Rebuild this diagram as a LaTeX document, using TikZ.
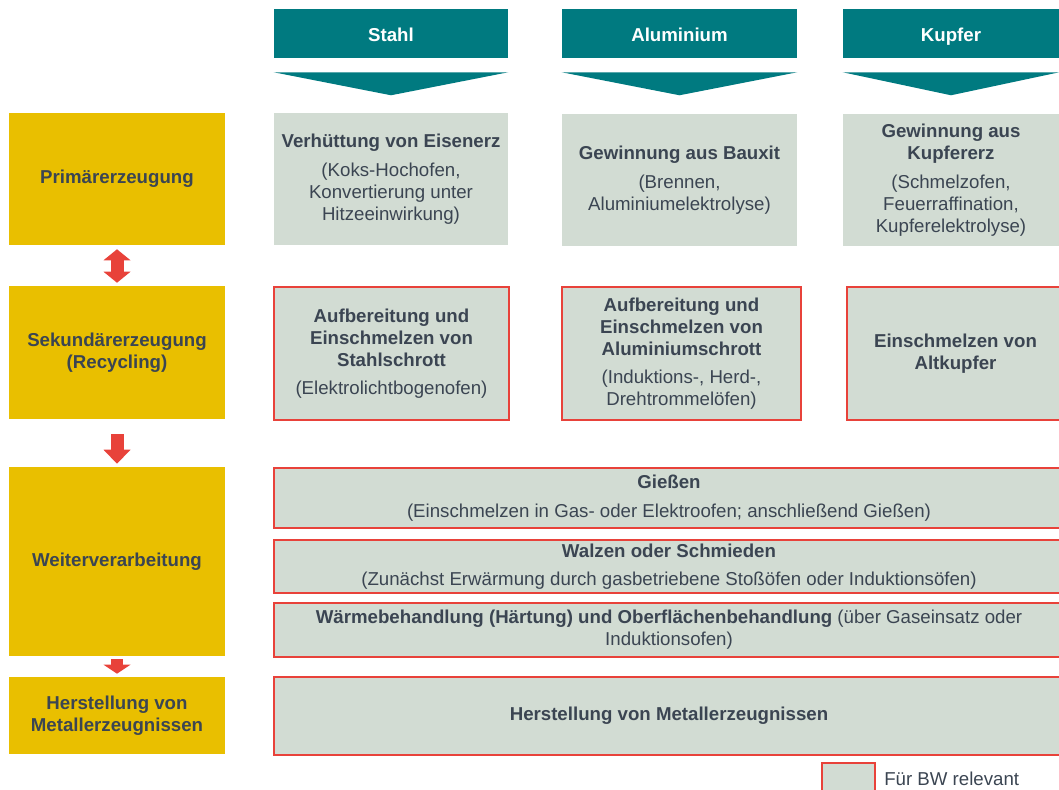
\documentclass[tikz,border=0pt]{standalone}
\usepackage{fontspec}
\setmainfont{Liberation Sans}
\usetikzlibrary{positioning,arrows.meta}
\definecolor{petrol}{HTML}{007A80}
\definecolor{gelb}{HTML}{E9BF00}
\definecolor{grau}{HTML}{D2DCD3}
\definecolor{rot}{HTML}{E8423A}
\definecolor{schrift}{HTML}{3B4552}

\begin{document}
\begin{tikzpicture}[x=0.75pt, y=-0.75pt, every node/.style={font=\fontsize{14}{16.5}\selectfont, text=schrift, align=center, inner sep=0pt}]
    \tikzstyle{kopf}=[fill=petrol, text=white, font=\fontsize{14}{16.5}\selectfont\bfseries, minimum height=36.75pt, text height=15pt, text depth=3pt]
    \tikzstyle{stufe}=[fill=gelb, font=\fontsize{14}{16.5}\selectfont\bfseries, minimum width=162pt]
    \tikzstyle{prozess}=[fill=grau, minimum height=99pt]
    \tikzstyle{relevant}=[fill=grau, draw=rot, line width=1.5pt]
    \tikzstyle{marr}=[rot, line width=9.75pt]

    \useasboundingbox (0,0) rectangle (1059,789);

    % Metalle oben
    \foreach \n/\x/\w/\t in {stahl/391/175.5pt/Stahl, alu/679.5/176.25pt/Aluminium, kupfer/951/162pt/Kupfer} {
        \node[kopf, minimum width=\w] (\n) at (\x, 33.5) {\t};
        \fill[petrol] ([yshift=-10.5pt]\n.south west) -- ([yshift=-10.5pt]\n.south east) -- ([yshift=-27.75pt]\n.south) -- cycle;
    }

    % Stufen links
    \node[stufe, minimum height=99pt] (prim) at (117, 179) {Primärerzeugung};
    \node[stufe, minimum height=99.75pt] (sek) at (117, 352.5) {Sekundärerzeugung\\(Recycling)};
    \node[stufe, minimum height=141.75pt] (weiter) at (117, 561.5) {Weiterverarbeitung};
    \node[stufe, minimum height=57.75pt] (herst) at (117, 715.5) {Herstellung von\\Metallerzeugnissen};

    \draw[marr, {Triangle[width=20.25pt, length=8.25pt, line width=0pt]}-{Triangle[width=20.25pt, length=8.25pt, line width=0pt]}, shorten <=3pt, shorten >=2.25pt] (prim) -- (sek);
    \draw[marr, -{Triangle[width=20.25pt, length=10.5pt, line width=0pt]}, shorten <=11.25pt, shorten >=2.25pt] (sek) -- (weiter);
    \draw[marr, line width=9pt, -{Triangle[width=20.25pt, length=6.75pt, line width=0pt]}, shorten <=2.25pt, shorten >=2.25pt] (weiter) -- (herst);

    % Primaererzeugung
    \node[prozess, minimum width=175.5pt] (stahlprim) at (391, 179) {\textbf{Verhüttung von Eisenerz}\\[5pt](Koks-Hochofen,\\Konvertierung unter\\Hitzeeinwirkung)};
    \node[prozess, minimum width=176.25pt] (aluprim) at (679.5, 180) {\textbf{Gewinnung aus Bauxit}\\[5pt](Brennen,\\Aluminiumelektrolyse)};
    \node[prozess, minimum width=162pt] (kupferprim) at (951, 180) {\textbf{Gewinnung aus}\\\textbf{Kupfererz}\\[5pt](Schmelzofen,\\Feuerraffination,\\Kupferelektrolyse)};

    % Sekundaererzeugung
    \node[relevant, minimum width=176.25pt, minimum height=99.75pt] (stahlsek) at (391.5, 353.5) {\textbf{Aufbereitung und}\\\textbf{Einschmelzen von}\\\textbf{Stahlschrott}\\[5pt](Elektrolichtbogenofen)};
    \node[relevant, minimum width=179.25pt, minimum height=99.75pt] (alusek) at (681.5, 353.5) {\textbf{Aufbereitung und}\\\textbf{Einschmelzen von}\\\textbf{Aluminiumschrott}\\[5pt](Induktions-, Herd-,\\Drehtrommelöfen)};
    \node[relevant, minimum width=162.75pt, minimum height=99.75pt] (kupfersek) at (955.5, 353.5) {\textbf{Einschmelzen von}\\\textbf{Altkupfer}};

    % Weiterverarbeitung
    \node[relevant, minimum width=592.5pt, minimum height=45pt] (giessen) at (669, 498) {\textbf{Gießen}\\[5pt](Einschmelzen in Gas- oder Elektroofen; anschließend Gießen)};
    \node[relevant, minimum width=592.5pt, minimum height=39.75pt] (walzen) at (669, 566.5) {\textbf{Walzen oder Schmieden}\\[5pt](Zunächst Erwärmung durch gasbetriebene Stoßöfen oder Induktionsöfen)};
    \node[relevant, minimum width=592.5pt, minimum height=40.5pt] (waerme) at (669, 630) {\textbf{Wärmebehandlung (Härtung) und Oberflächenbehandlung} (über Gaseinsatz oder\\Induktionsofen)};
    \node[relevant, minimum width=592.5pt, minimum height=58.5pt] (produkte) at (669, 716) {\textbf{Herstellung von Metallerzeugnissen}};

    % Legende
    \node[relevant, minimum width=39.75pt, minimum height=24pt] (legende) at (848.5, 779) {};
    \node[right=6pt of legende] (legendetext) {Für BW relevant};

\end{tikzpicture}
\end{document}
